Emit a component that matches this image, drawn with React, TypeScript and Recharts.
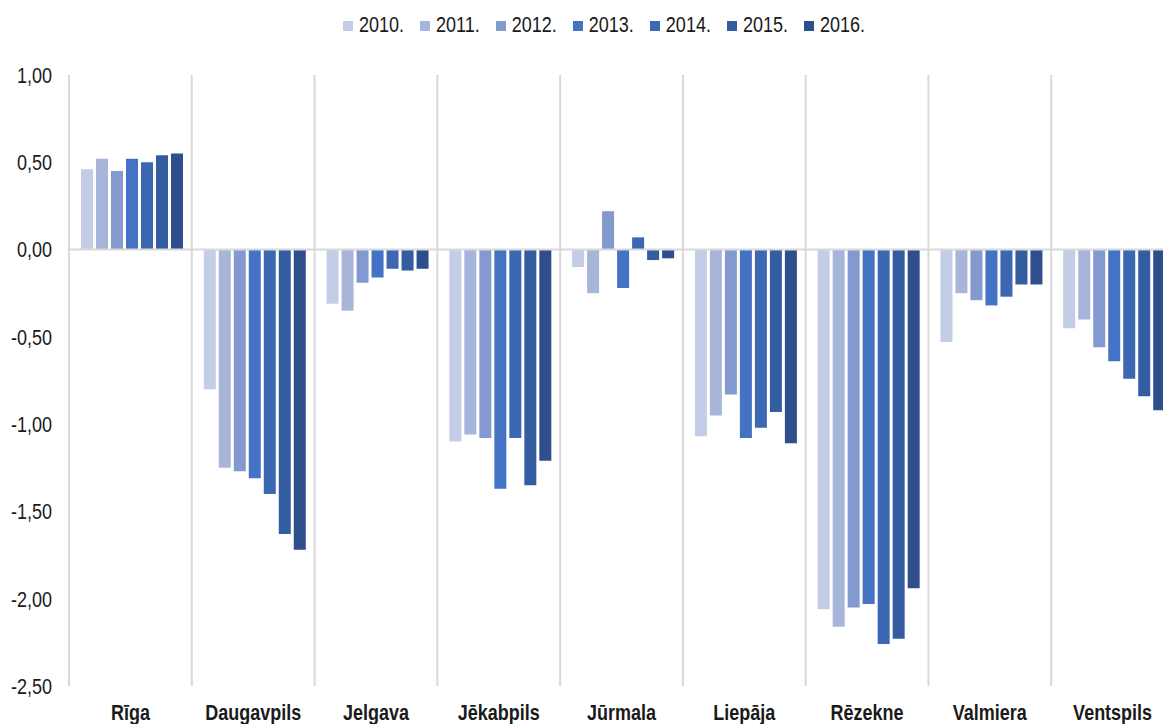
import { BarChart, Bar, XAxis, YAxis, CartesianGrid, Legend, ReferenceLine } from 'recharts'

const categories = ['Rīga', 'Daugavpils', 'Jelgava', 'Jēkabpils', 'Jūrmala', 'Liepāja', 'Rēzekne', 'Valmiera', 'Ventspils']
const years = ['2010.', '2011.', '2012.', '2013.', '2014.', '2015.', '2016.']

const v2010 = [0.46, -0.8, -0.31, -1.1, -0.1, -1.07, -2.06, -0.53, -0.45]
const v2011 = [0.52, -1.25, -0.35, -1.06, -0.25, -0.95, -2.16, -0.25, -0.4]
const v2012 = [0.45, -1.27, -0.19, -1.08, 0.22, -0.83, -2.05, -0.29, -0.56]
const v2013 = [0.52, -1.31, -0.16, -1.37, -0.22, -1.08, -2.03, -0.32, -0.64]
const v2014 = [0.5, -1.4, -0.11, -1.08, 0.07, -1.02, -2.26, -0.27, -0.74]
const v2015 = [0.54, -1.63, -0.12, -1.35, -0.06, -0.93, -2.23, -0.2, -0.84]
const v2016 = [0.55, -1.72, -0.11, -1.21, -0.05, -1.11, -1.94, -0.2, -0.92]

const yTicks = [1, 0.5, 0, -0.5, -1, -1.5, -2, -2.5]

const series = [v2010, v2011, v2012, v2013, v2014, v2015, v2016]
const colors = ['#c3cde6', '#a8b5db', '#8499cf', '#4472c4', '#3c67b2', '#345ca0', '#2e4f8c']

const data = categories.map((city, i) => {
  const row: Record<string, string | number> = { city }
  years.forEach((y, k) => {
    row[y] = series[k][i]
  })
  return row
})

// the reference uses a narrow, tall face (Arial Narrow); no narrow font here,
// so Arial-metric text is stretched vertically instead
const font = '"Liberation Sans", Arial, sans-serif'
const stretch = 1.22
const fmt = (v: number) => v.toFixed(2).replace('.', ',')

function YTick({ x, y, payload }: any) {
  return (
    <g transform={`translate(${x},${y})`}>
      <text transform={`scale(1,${stretch})`} textAnchor="end" dy="0.36em" fontSize={18} fontFamily={font} fill="#1a1a1a">
        {fmt(payload.value)}
      </text>
    </g>
  )
}

function XTick({ x, y, payload }: any) {
  return (
    <g transform={`translate(${x},${y})`}>
      <text transform={`scale(1,${stretch})`} textAnchor="middle" dy="0.71em" fontSize={18} fontWeight="bold" fontFamily={font} fill="#1a1a1a">
        {payload.value}
      </text>
    </g>
  )
}

export default function App() {
  return (
    <div style={{ position: 'absolute', left: 0, top: 0, width: 1163, height: 724, overflow: 'hidden', background: '#fff' }}>
      <BarChart
        width={1180}
        height={724}
        data={data}
        margin={{ top: 14, right: 6, left: 8, bottom: 8 }}
        barCategoryGap={12}
        barGap={3}
        style={{ fontFamily: font }}
      >
        <CartesianGrid
          horizontal={false}
          stroke="#d9d9d9"
          strokeWidth={2}
          verticalCoordinatesGenerator={({ offset }: any) =>
            categories.map((_, i) => offset.left + (i * offset.width) / categories.length)
          }
        />
        <XAxis dataKey="city" axisLine={false} tickLine={false} height={30} tickMargin={12} interval={0} tick={<XTick />} />
        <YAxis
          domain={[-2.5, 1]}
          ticks={yTicks}
          width={61}
          axisLine={false}
          tickLine={false}
          tickMargin={11}
          tick={<YTick />}
        />
        <ReferenceLine y={0} stroke="#d9d9d9" strokeWidth={2} />
        <Legend
          verticalAlign="top"
          height={61}
          iconType="square"
          iconSize={10}
          wrapperStyle={{ top: 15, left: 29, fontSize: 18, fontFamily: font }}
          formatter={(v: string) => (
            <span
              style={{
                display: 'inline-block',
                color: '#1a1a1a',
                marginLeft: 2,
                marginRight: 6,
                transform: `scaleY(${stretch})`,
              }}
            >
              {v}
            </span>
          )}
        />
        {years.map((y, k) => (
          <Bar key={y} dataKey={y} fill={colors[k]} isAnimationActive={false} />
        ))}
      </BarChart>
    </div>
  )
}
